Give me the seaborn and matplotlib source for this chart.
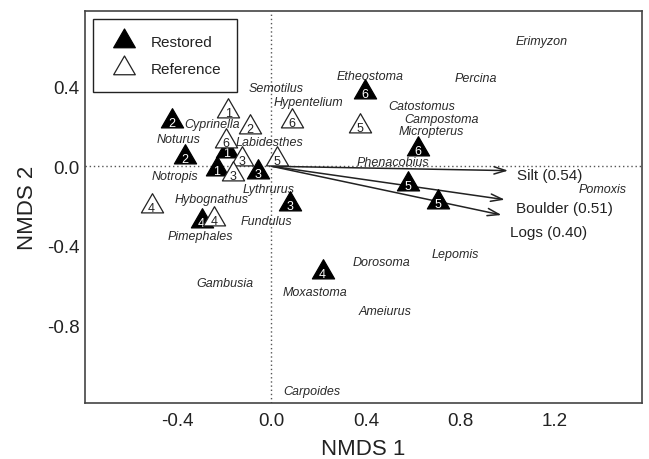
import numpy as np
import pandas as pd
import matplotlib
matplotlib.use("Agg")
import matplotlib.pyplot as plt
import seaborn as sns
from matplotlib.lines import Line2D
from matplotlib.path import Path

# ---------------- data ----------------
restored_x = [-0.423, -0.367, -0.190, -0.232, -0.056, 0.078, -0.296, 0.396, 0.622, 0.580, 0.707, 0.217]
restored_y = [0.229, 0.045, 0.078, -0.014, -0.030, -0.189, -0.273, 0.372, 0.087, -0.089, -0.181, -0.533]
restored_site = [2, 2, 1, 1, 3, 3, 4, 6, 6, 5, 5, 4]

reference_x = [-0.183, -0.091, 0.086, -0.193, -0.126, -0.164, 0.025, -0.508, -0.244, 0.375]
reference_y = [0.279, 0.196, 0.229, 0.129, 0.037, -0.039, 0.037, -0.198, -0.265, 0.204]
reference_site = [1, 2, 6, 6, 3, 3, 5, 4, 4, 5]

species = ["Erimyzon", "Percina", "Etheostoma", "Semotilus", "Hypentelium", "Catostomus",
           "Campostoma", "Micropterus", "Phenacobius", "Cyprinella", "Noturus", "Labidesthes",
           "Notropis", "Lythrurus", "Hybognathus", "Fundulus", "Pimephales", "Gambusia",
           "Moxastoma", "Dorosoma", "Lepomis", "Ameiurus", "Carpoides", "Pomoxis"]
species_x = [1.145, 0.867, 0.420, 0.019, 0.156, 0.636, 0.721, 0.676, 0.514, -0.253, -0.395, -0.009,
             -0.409, -0.014, -0.253, -0.023, -0.303, -0.197, 0.184, 0.467, 0.778, 0.481, 0.170, 1.403]
species_y = [0.628, 0.442, 0.455, 0.393, 0.323, 0.305, 0.238, 0.179, 0.020, 0.213, 0.137, 0.121,
             -0.047, -0.114, -0.164, -0.273, -0.352, -0.588, -0.630, -0.482, -0.441, -0.726, -1.128, -0.114]

env_names = ["Silt (0.54)", "Boulder (0.51)", "Logs (0.40)"]
env_x = [1.003, 0.989, 0.975]
env_y = [-0.022, -0.168, -0.245]

x_ticks = [-0.4, 0.0, 0.4, 0.8, 1.2]
x_ticklabels = ["-0.4", "0.0", "0.4", "0.8", "1.2"]
y_ticks = [0.4, 0.0, -0.4, -0.8]
y_ticklabels = ["0.4", "0.0", "-0.4", "-0.8"]

# ---------------- style ----------------
sns.set_style("white")
plt.rcParams["font.family"] = ["Liberation Sans", "DejaVu Sans"]

rest_df = pd.DataFrame({"NMDS1": restored_x, "NMDS2": restored_y, "site": restored_site})
ref_df = pd.DataFrame({"NMDS1": reference_x, "NMDS2": reference_y, "site": reference_site})

tri = Path([(0, 1), (-0.866, -0.5), (0.866, -0.5), (0, 1)],
           [Path.MOVETO, Path.LINETO, Path.LINETO, Path.CLOSEPOLY])

fig = plt.figure(figsize=(6.49, 4.60), dpi=100)
ax = fig.add_axes([85 / 649, (460 - 404.3) / 460, 557 / 649, 392.3 / 460])

txt = "#222222"
ax.axhline(0, ls=(0, (1, 2)), color="#555555", lw=1.0, zorder=1)
ax.axvline(0, ls=(0, (1, 2)), color="#555555", lw=1.0, zorder=1)

# arrows
arrow_off = [(6, -3), (8, -6), (6, -12)]
for name, ex, ey, off in zip(env_names, env_x, env_y, arrow_off):
    ax.annotate("", xy=(ex, ey), xytext=(0, 0),
                arrowprops=dict(arrowstyle="->,head_length=0.7,head_width=0.22",
                                color="#222222", lw=1.1, shrinkA=0, shrinkB=0,
                                mutation_scale=12), zorder=2)
    ax.annotate(name, xy=(ex, ey), xytext=off, textcoords="offset points",
                ha="left", va="center", fontsize=11, color=txt, zorder=2)

# species labels
for s, sx, sy in zip(species, species_x, species_y):
    ax.text(sx, sy, s, ha="center", va="center", fontsize=9, style="italic",
            color="#2a2a2a", zorder=2)

# sites
sns.scatterplot(data=rest_df, x="NMDS1", y="NMDS2", marker=tri, s=340,
                color="black", edgecolor="black", linewidth=0.9, ax=ax, zorder=3, legend=False)
for _, r in rest_df.iterrows():
    ax.text(r.NMDS1, r.NMDS2 - 0.01, str(int(r.site)), ha="center", va="center",
            fontsize=9, color="white", zorder=3.1)
sns.scatterplot(data=ref_df, x="NMDS1", y="NMDS2", marker=tri, s=340,
                color="white", edgecolor="#222222", linewidth=0.9, ax=ax, zorder=3.2, legend=False)
for _, r in ref_df.iterrows():
    ax.text(r.NMDS1, r.NMDS2 - 0.01, str(int(r.site)), ha="center", va="center",
            fontsize=9, color="#222222", zorder=3.3)

ax.set_xlim(-0.790, 1.570)
ax.set_ylim(-1.191, 0.780)
ax.set_xticks(x_ticks)
ax.set_xticklabels(x_ticklabels)
ax.set_yticks(y_ticks)
ax.set_yticklabels(y_ticklabels)
ax.tick_params(direction="in", length=5, width=1, color="#444444", labelsize=13.5,
               labelcolor=txt)
ax.tick_params(axis="x", pad=6)
ax.tick_params(axis="y", pad=4)
for sp in ax.spines.values():
    sp.set_color("#444444")
    sp.set_linewidth(1.2)
ax.set_xlabel("NMDS 1", fontsize=16, color=txt, labelpad=6.5)
ax.set_ylabel("NMDS 2", fontsize=16, color=txt, labelpad=6.5)

handles = [Line2D([], [], marker=tri, markersize=18, mfc="black", mec="black", mew=0.9, ls="None"),
           Line2D([], [], marker=tri, markersize=18, mfc="white", mec="#222222", mew=0.9, ls="None")]
leg = ax.legend(handles, ["Restored", "Reference"], loc="upper left",
                bbox_to_anchor=(0.0149, 0.980), borderaxespad=0, fontsize=11,
                frameon=True, fancybox=False, edgecolor="#222222", framealpha=1,
                borderpad=1.05, labelspacing=0.85, handlelength=1.9, handletextpad=0.8)
leg.get_frame().set_linewidth(1.0)
for t in leg.get_texts():
    t.set_color(txt)

fig.savefig("out.png", dpi=100)
